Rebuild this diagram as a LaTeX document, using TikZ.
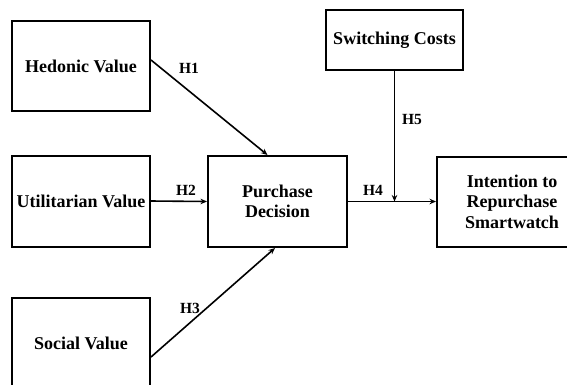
\documentclass[tikz,border=0pt]{standalone}
\usepackage{fontspec}
\setmainfont{Liberation Serif}
\usetikzlibrary{arrows.meta}
\begin{document}
\begin{tikzpicture}[x=1pt,y=-1pt,
  box/.style={draw, line width=2pt, inner sep=0pt, align=center,
    font=\bfseries\fontsize{18}{20.5}\selectfont},
  conn/.style={line width=1.6pt, -{Stealth[length=6.5pt,width=5.5pt]}},
  hlab/.style={font=\bfseries\fontsize{15.5}{17}\selectfont, inner sep=0pt}]
\path[use as bounding box] (0,0) rectangle (567,384);
\clip (0,0) rectangle (567,384);
\node[box, minimum width=138pt, minimum height=90pt] (hed) at (81,66) {Hedonic Value};
\node[box, minimum width=138pt, minimum height=91pt] (uti) at (81,201) {Utilitarian Value};
\node[box, minimum width=138pt, minimum height=91pt] (soc) at (81,343.5) {Social Value};
\node[box, minimum width=139pt, minimum height=91pt] (pur) at (277.5,201.5) {Purchase\\Decision};
\node[box, minimum width=137pt, minimum height=60pt] (sw) at (394.5,40) {Switching Costs};
\node[box, minimum width=150pt, minimum height=90pt] (int) at (512,201.5) {Intention to\\Repurchase\\Smartwatch};
\coordinate (j) at (394.5,201.5);
\draw[conn] ([yshift=6pt]hed.east) -- ([xshift=-10pt]pur.north);
\draw[conn] (uti.east) -- (pur.west);
\draw[conn] ([yshift=-13.5pt]soc.east) -- ([xshift=-2.5pt]pur.south);
\draw[conn] (pur.east) -- (int.west);
\draw[conn] (sw.south) -- (j);
\node[hlab] (h1) at (189,68) {H1};
\node[hlab] (h2) at (186,190) {H2};
\node[hlab] (h3) at (190,308) {H3};
\node[hlab] (h4) at (373,190) {H4};
\node[hlab] (h5) at (412,119) {H5};
\end{tikzpicture}
\end{document}
